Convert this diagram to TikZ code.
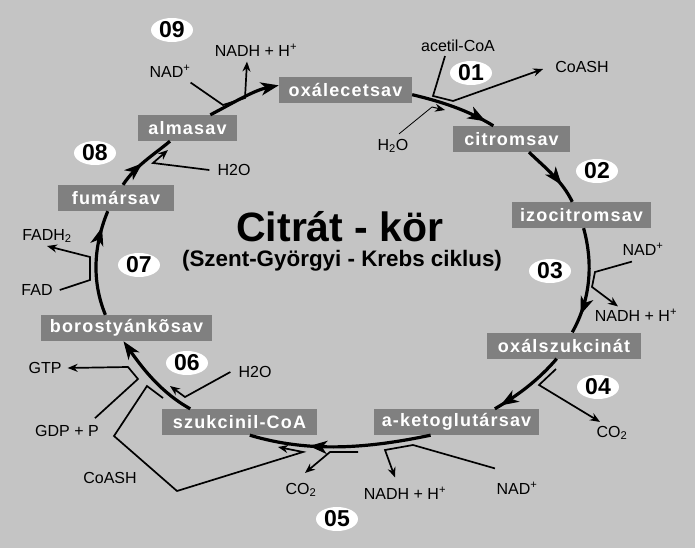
\documentclass[tikz,border=0pt]{standalone}
\usepackage{fontspec}
\setmainfont{Liberation Sans}
\newfontfamily\boxfont[LetterSpace=6.5]{Liberation Sans}
\usetikzlibrary{shapes.geometric,arrows.meta,decorations.markings}
\definecolor{bg}{RGB}{196,196,196}
\definecolor{boxgray}{RGB}{128,128,128}
\tikzset{
  sub/.style={fill=boxgray, text=white, font=\boxfont\bfseries\fontsize{18}{20}\selectfont, minimum height=26pt, inner sep=0pt},
  num/.style={ellipse, fill=white, minimum width=42pt, minimum height=24pt, inner sep=0pt, font=\bfseries\fontsize{23}{25}\selectfont},
  lbl/.style={font=\fontsize{16}{18}\selectfont, inner sep=0pt},
  cyc/.style={line width=3.2pt},
  side/.style={line width=1.7pt},
  sarr/.style={-{Stealth[length=10pt,width=8pt]}},
  bigtip/.style={-{Stealth[length=18pt,width=13pt,inset=5pt]}},
  mk/.style={postaction={decorate,decoration={markings,mark=at position #1 with {\arrow{Stealth[length=18pt,width=13pt,inset=5pt]}}}}}
}
\begin{document}
\begin{tikzpicture}[x=1pt,y=-1pt]
\fill[bg] (0,0) rectangle (695,548);
\useasboundingbox (0,0) rectangle (695,548);

% boxes
\node[sub, minimum width=133pt] (oxa) at (345.5,90) {oxálecetsav};
\node[sub, minimum width=117pt] (cit) at (511.5,139) {citromsav};
\node[sub, minimum width=139pt] (izo) at (581.5,215) {izocitromsav};
\node[sub, minimum width=154pt] (oxs) at (564,345.5) {oxálszukcinát};
\node[sub, minimum width=165pt] (akg) at (456.5,422) {a-ketoglutársav};
\node[sub, minimum width=155pt] (szu) at (239.5,422) {szukcinil-CoA};
\node[sub, minimum width=171pt] (bor) at (126.5,328) {borostyánkõsav};
\node[sub, minimum width=116pt] (fum) at (116,198) {fumársav};
\node[sub, minimum width=99pt] (alm) at (187.5,128) {almasav};

% numbers
\node[num] (s09) at (172,30) {09};
\node[num] (s01) at (471,73) {01};
\node[num] (s02) at (597,171) {02};
\node[num] (s03) at (550,271) {03};
\node[num] (s04) at (598,387) {04};
\node[num] (s05) at (337,519) {05};
\node[num] (s06) at (187,363) {06};
\node[num] (s07) at (139,265) {07};
\node[num] (s08) at (95,153) {08};

% title
\node[anchor=base, inner sep=0pt, font=\bfseries\fontsize{41}{45}\selectfont] (title) at (340,241) {Citrát - kör};
\node[anchor=base, inner sep=0pt, font=\bfseries\fontsize{22.4}{25}\selectfont] (subt) at (342,266) {(Szent-Györgyi - Krebs ciklus)};

% labels
\node[lbl] (n9a) at (170,71) {NAD\textsuperscript{+}};
\node[lbl] (n9b) at (256,50) {NADH + H\textsuperscript{+}};
\node[lbl] (acoa) at (458,46) {acetil-CoA};
\node[lbl] (coash1) at (582,67) {CoASH};
\node[lbl] (h2o1) at (393,146) {H\textsubscript{2}O};
\node[lbl] (nad3) at (643,249) {NAD\textsuperscript{+}};
\node[lbl] (nadh3) at (636,315) {NADH + H\textsuperscript{+}};
\node[lbl] (co4) at (612,433) {CO\textsubscript{2}};
\node[lbl] (nad5) at (517,488) {NAD\textsuperscript{+}};
\node[lbl] (nadh5) at (405,493) {NADH + H\textsuperscript{+}};
\node[lbl] (co5) at (301,490) {CO\textsubscript{2}};
\node[lbl] (coash6) at (110,478) {CoASH};
\node[lbl] (h2o6) at (255,372) {H2O};
\node[lbl] (gtp) at (45,368) {GTP};
\node[lbl] (gdp) at (67,431) {GDP + P};
\node[lbl] (fadh) at (47,236) {FADH\textsubscript{2}};
\node[lbl] (fad) at (37,290) {FAD};
\node[lbl] (h2o8) at (234,170) {H2O};

% free ends
\coordinate (c4) at (556,369);
\coordinate (c5) at (358,452);
\coordinate (cl) at (163,398);

% main cycle
\draw[cyc,mk=0.9] (oxa.-4) .. controls +(29,7) and +(-26,-16) .. (cit.144);
\draw[cyc,mk=0.7] (cit.-37) .. controls +(16.5,16) and +(-10,-21) .. (izo.125);
\draw[cyc,mk=0.82] (izo.-81) .. controls +(10,36) and +(18,-32) .. (oxs.58);
\draw[cyc,mk=0.92] (oxs.-119) .. controls +(-18,21) and +(24,-14) .. (akg.19);
\draw[cyc,mk=0.67] (akg.-153) .. controls +(-62,13) and +(60,18) .. (szu.-52);
\draw[cyc,bigtip] (szu.165) .. controls +(-29,-16) and +(19,27) .. (bor.-103);
\draw[cyc,mk=0.84] (bor.148) .. controls +(-14,-34) and +(-14,34) .. (fum.-122);
\draw[cyc,mk=0.45] (fum.62) .. controls +(12.5,-19) and +(-18,15) .. (alm.-143);
\draw[cyc,bigtip] (alm.30) .. controls +(23,-12) and +(-25,5) .. (oxa.176);

% side reactions
% 09
\draw[side,sarr] ([yshift=-5pt]n9a.south east) -- (223,105) -- (245,98) -- ([xshift=-9pt,yshift=-5pt]n9b.south);
% 01
\draw[side,sarr] ([xshift=-13pt,yshift=-4pt]acoa.south) -- (433,96) -- (453,101) -- ([xshift=-12pt,yshift=-2pt]coash1.west);
\draw[line width=0.8pt] ([xshift=6pt,yshift=5pt]h2o1.north) -- (432,107);
\draw[line width=1pt,sarr] (432,107) -- (445,110);
% 03
\draw[side,sarr] ([xshift=-11pt,yshift=-6pt]nad3.south) -- (595,272) -- (592,287) -- ([xshift=-18pt,yshift=2pt]nadh3.north);
% 04
\draw[side,sarr] (c4) -- (539,385) -- ([xshift=-12pt,yshift=4pt]co4.north);
% 05
\draw[side,sarr] ([xshift=-22pt,yshift=13pt]nad5.north) -- (413,445) -- (385,450) -- ([xshift=-10pt,yshift=9pt]nadh5.north);
\draw[side,sarr] (c5) -- (330,452) -- ([xshift=4pt,yshift=10pt]co5.north);
\draw[side,sarr] (cl) -- (147,386) -- (114,436) -- (177,491) -- (303,452) -- (278,447);
% 06
\draw[side,sarr] ([xshift=-8pt]h2o6.west) -- (185,397) -- (170,386);
\draw[side,sarr] ([xshift=28pt,yshift=7pt]gdp.north) -- (138,379) -- (128,367) -- ([xshift=6pt]gtp.east);
% 07
\draw[side,sarr] ([xshift=7pt]fad.east) -- (90,280) -- (90,257) -- ([yshift=-3pt]fadh.south);
% 08
\draw[side,sarr] ([xshift=-8pt]h2o8.west) -- (153,163) -- (168,150);
\end{tikzpicture}
\end{document}
